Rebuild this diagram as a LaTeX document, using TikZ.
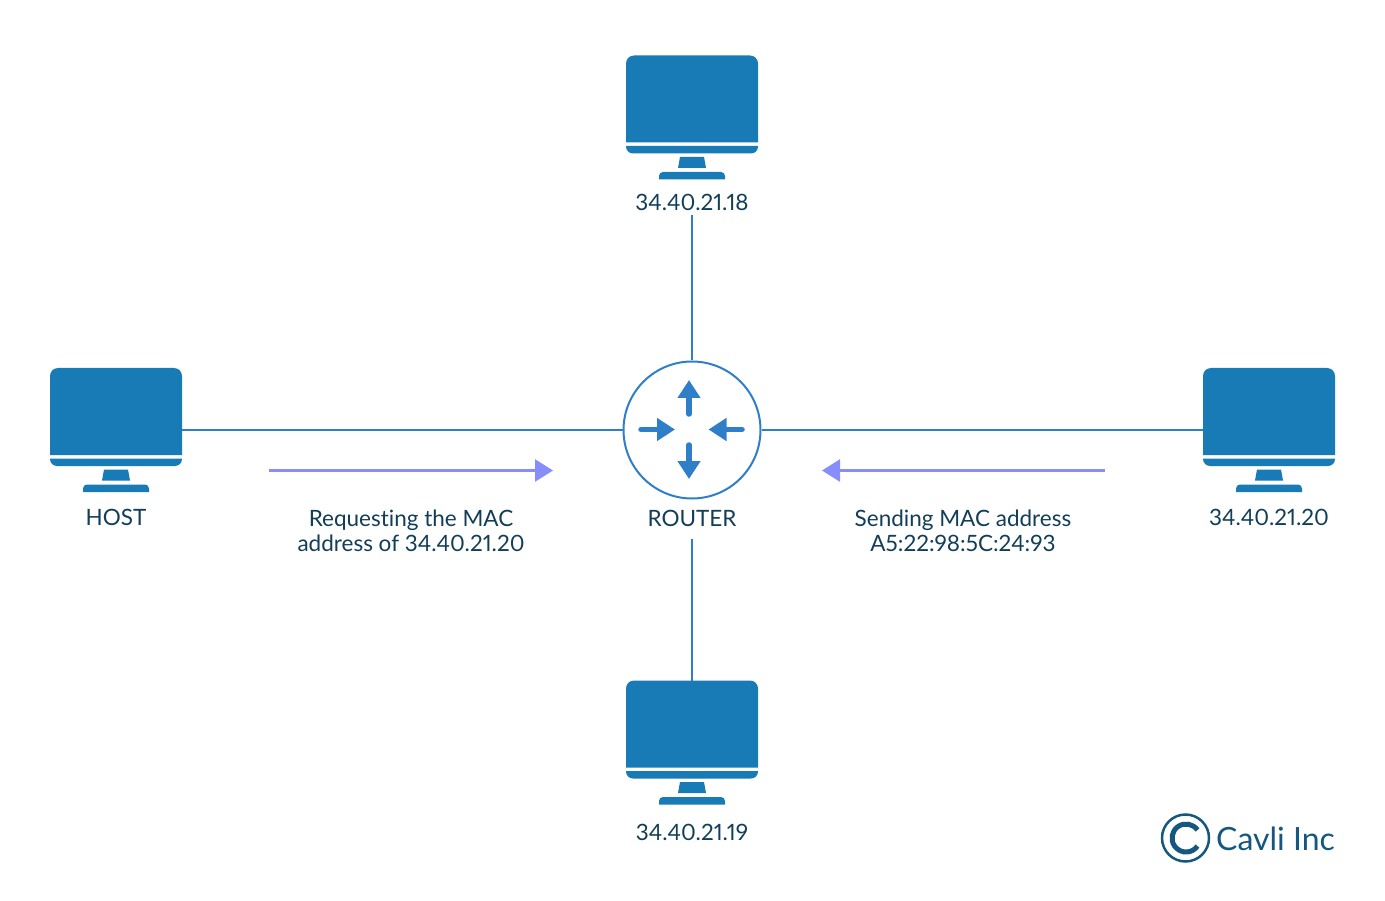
\documentclass[tikz,border=0pt]{standalone}
\usepackage{fontspec}
\setmainfont[Numbers=Proportional,Ligatures=NoCommon]{Lato}
\usetikzlibrary{arrows.meta}
\definecolor{pcblue}{HTML}{187BB5}
\definecolor{linkblue}{HTML}{2F7FC8}
\definecolor{flowblue}{HTML}{878EFB}
\definecolor{labelink}{HTML}{123E58}
\definecolor{logoblue}{HTML}{15587F}
\tikzset{
	pcbox/.style={minimum width=132pt, minimum height=124pt, inner sep=0pt, outer sep=0pt},
	txt/.style={text=labelink, font=\fontsize{22.5}{25}\selectfont, align=center, inner sep=0pt},
	link/.style={draw=linkblue, line width=2pt},
	flow/.style={draw=flowblue, line width=2.5pt, -{Triangle[length=18pt,width=22pt]}},
	turn/.style={draw=linkblue, line width=5.5pt, line cap=round, -{Triangle[length=18pt,width=22pt]}},
	monitor/.pic={
		\fill[pcblue] (-66,25) -- (-66,-54) arc[start angle=180, end angle=270, radius=8] -- (58,-62) arc[start angle=270, end angle=360, radius=8] -- (66,25) -- cycle;
		\fill[pcblue] (-66,28.5) -- (-66,29) arc[start angle=180, end angle=90, radius=7] -- (59,36) arc[start angle=90, end angle=0, radius=7] -- (66,28.5) -- cycle;
		\fill[pcblue] (-12,39.5) -- (12,39.5) -- (14,50.5) -- (-14,50.5) -- cycle;
		\fill[pcblue] (-33,62) -- (-33,58.5) arc[start angle=180, end angle=270, radius=4] -- (29,54.5) arc[start angle=270, end angle=360, radius=4] -- (33,62) -- cycle;
	}
}
\begin{document}
\begin{tikzpicture}[x=1pt, y=-1pt]
	\useasboundingbox (0,0) rectangle (1385,901);
			\node	(host) at (116,430) [pcbox] {};
			\node	(top) at (692,117.5) [pcbox] {};
			\node	(right) at (1269,430) [pcbox] {};
			\node	(bottom) at (692,742.5) [pcbox] {};
			\pic at (host) {monitor};
			\pic at (top) {monitor};
			\pic at (right) {monitor};
			\pic at (bottom) {monitor};

			\node	(router) at (692,430) [draw=linkblue, line width=2pt, circle, minimum size=137pt, inner sep=0pt] {};

				\node	(hostlabel) at (116,517) [txt] {HOST};
				\node	(toplabel) at (692,202) [txt, outer sep=5pt] {34.40.21.18};
				\node	(rightlabel) at (1269,517) [txt] {34.40.21.20};
				\node	(bottomlabel) at (692,832) [txt] {34.40.21.19};
				\node	(routerlabel) at (692,518) [txt, outer sep=13pt] {ROUTER};
				\node	(request) at (411,530.5) [txt] {Requesting the MAC\\address of 34.40.21.20};
				\node	(reply) at (963,530.5) [txt] {Sending MAC address\\A5:22:98:5C:24:93};

			\draw
			(host) edge[link] (router)
			(right) edge[link] (router)
			(toplabel) edge[link] (router)
			(routerlabel) edge[link] (bottom)
			;

			\coordinate	(reqstart) at (269,470.5);
			\coordinate	(reqend) at (553,470.5);
			\coordinate	(repstart) at (1105,470.5);
			\coordinate	(repend) at (822,470.5);
			\draw[flow] (reqstart) -- (reqend);
			\draw[flow] (repstart) -- (repend);

			\coordinate	(upa) at (689,414);
			\coordinate	(upb) at (689,380);
			\coordinate	(downa) at (689,445);
			\coordinate	(downb) at (689,479);
			\coordinate	(ina) at (641,429.5);
			\coordinate	(inb) at (675,429.5);
			\coordinate	(outa) at (742,429.5);
			\coordinate	(outb) at (708.5,429.5);
			\draw[turn] (upa) -- (upb);
			\draw[turn] (downa) -- (downb);
			\draw[turn] (ina) -- (inb);
			\draw[turn] (outa) -- (outb);

			\node	(logoring) at (1185.5,838) [draw=logoblue, line width=2.5pt, circle, minimum size=47pt, inner sep=0pt] {};
			\draw[logoblue, line width=5pt] (1197.5,830) arc[start angle=-35, end angle=-325, radius=14];
			\node	(logotext) at (1275.5,839) [text=logoblue, font=\fontsize{32}{34}\selectfont, inner sep=0pt] {Cavli Inc};
\end{tikzpicture}
\end{document}
